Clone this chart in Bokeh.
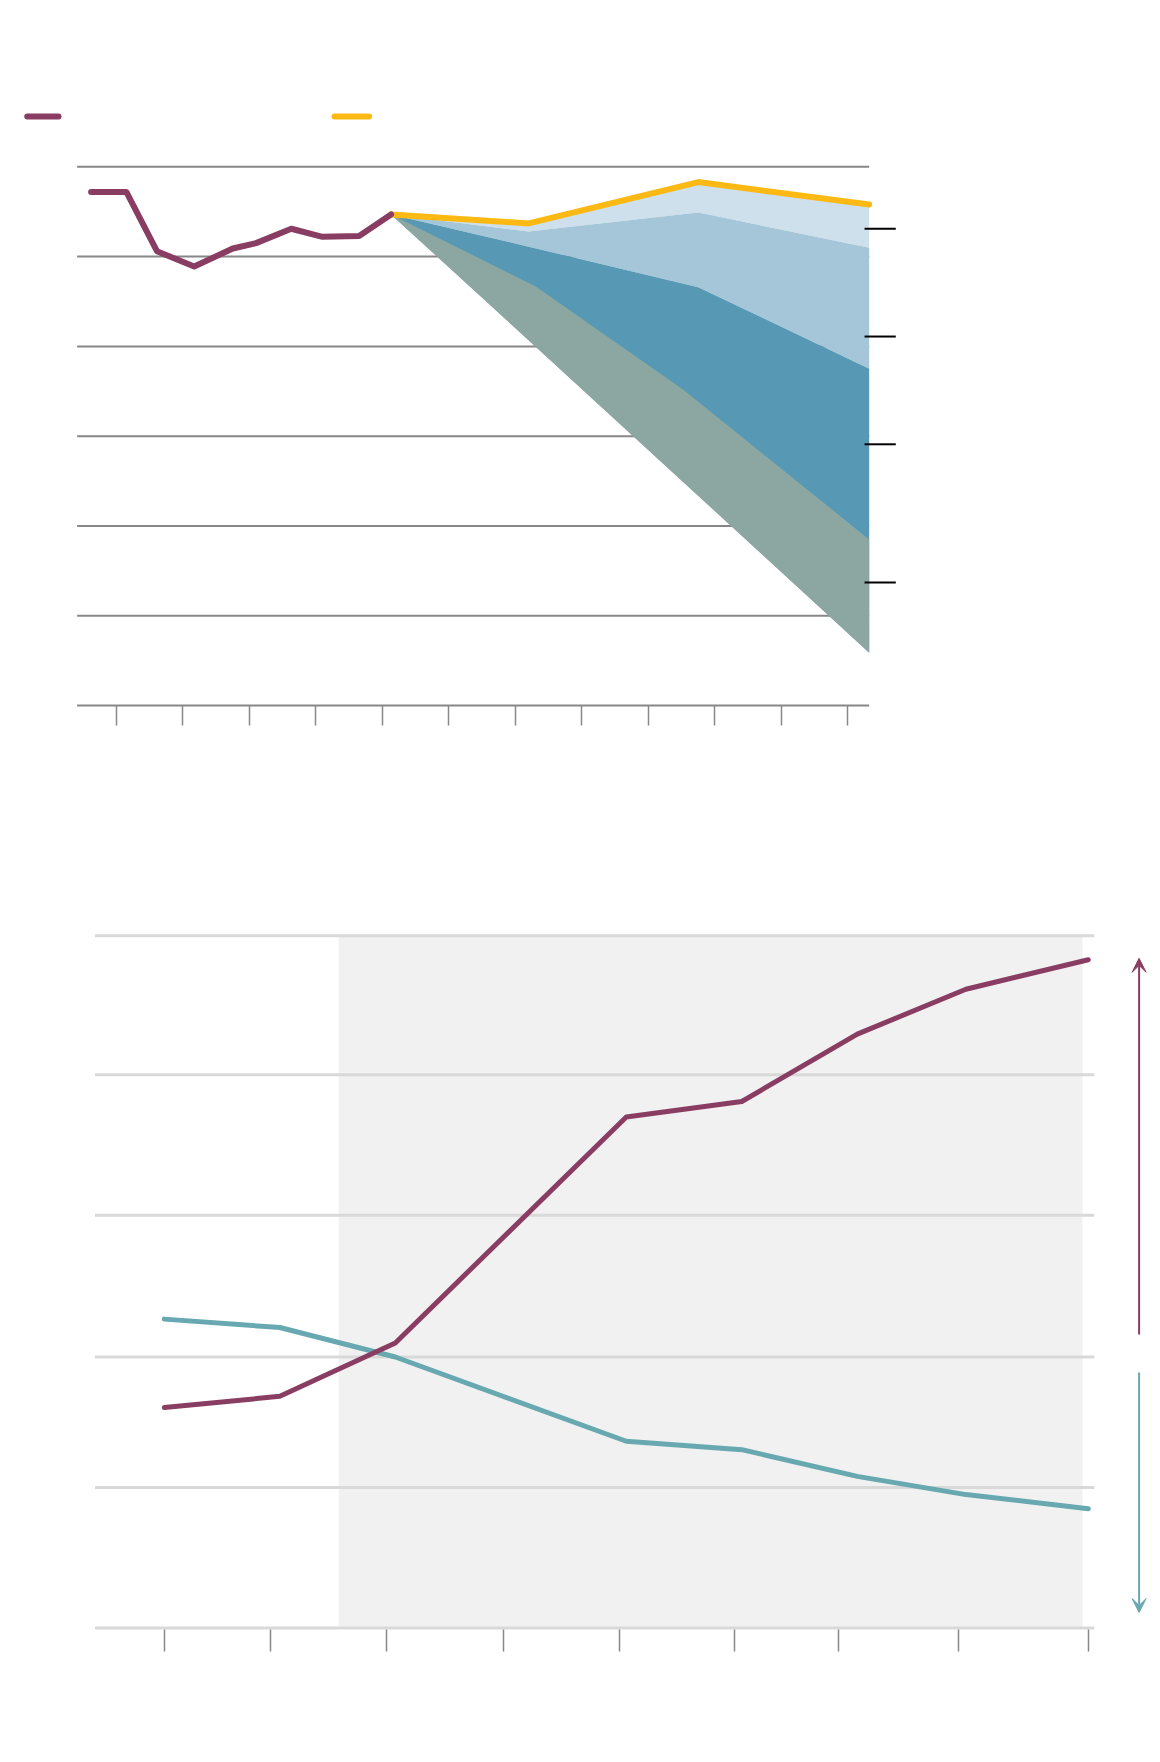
from bokeh.plotting import figure
from bokeh.layouts import column
from bokeh.models import Range1d, FixedTicker, CustomJSTickFormatter, Arrow, VeeHead
from bokeh.embed import file_html
from bokeh.resources import INLINE

# ---------------- data: top chart ----------------
hist_years = [1956.2, 1961.5, 1966.1, 1971.7, 1977.5, 1981.0, 1986.3, 1991.0, 1996.5, 2001.3]
hist_vals = [57.2, 57.2, 50.6, 48.9, 50.9, 51.5, 53.1, 52.2, 52.3, 54.7]
proj_years = [2001.3, 2022, 2047.5, 2073.2]
proj_line = [54.7, 53.7, 58.3, 55.8]
band1_bottom = [54.7, 52.8, 54.9, 51.0]
band2_bottom = [54.7, 51.1, 46.6, 37.5]
band3_low = [54.7, 40.7, 23.4, 5.9]
gray_years = [2001.3, 2023, 2045.2, 2073.2]
gray_top = [54.7, 46.7, 35.2, 18.5]
gray_bottom = [54.7, 40.0, 24.9, 5.9]
top_grid_vals = [0, 10, 20, 30, 40, 50, 60]
top_ticks = [1960, 1970, 1980, 1990, 2000, 2010, 2020, 2030, 2040, 2050, 2060, 2070]
marker_levels = [53.1, 41.1, 29.1, 13.7]
marker_span = [2072.5, 2077.2]
top_grid_span = [1954.1, 2073.2]
legend_hist = [1946.6, 1951.3]
legend_proj = [1992.8, 1998.0]
legend_level = 65.6

# ---------------- data: bottom chart ----------------
years_b = [2010, 2015, 2020, 2030, 2035, 2040, 2044.7, 2050]
series_up = [1.57, 1.65, 2.03, 3.64, 3.75, 4.23, 4.55, 4.76]
series_down = [2.20, 2.14, 1.93, 1.33, 1.27, 1.08, 0.95, 0.85]
bottom_grid_vals = [0, 1.0, 1.93, 2.94, 3.94, 4.93]
bottom_ticks = [2010, 2014.6, 2019.6, 2024.7, 2029.7, 2034.7, 2039.2, 2044.4, 2050]
shade_span = [2017.55, 2049.75]
bottom_grid_span = [2007.0, 2050.26]
arrow_x = 2052.2
arrow_up = [2.09, 4.77]
arrow_down = [1.82, 0.11]

MAROON = "#8a3d62"
YELLOW = "#fdb913"
TEAL = "#68a8b1"
empty = CustomJSTickFormatter(code="return ''")

# ================= top figure =================
p1 = figure(width=1151, height=759, output_backend="svg", toolbar_location=None,
            x_range=Range1d(1944.23, 2115.35), y_range=Range1d(-0.21, 71.95),
            y_axis_location=None, min_border_left=11, min_border_right=2,
            min_border_top=59, min_border_bottom=52)
p1.outline_line_color = None
p1.xgrid.visible = False
p1.ygrid.visible = False

n = len(top_grid_vals)
p1.segment(x0=[top_grid_span[0]] * n, y0=top_grid_vals, x1=[top_grid_span[1]] * n,
           y1=top_grid_vals, line_color="#878787", line_width=2)

p1.varea(x=proj_years, y1=band1_bottom, y2=proj_line, fill_color="#cde0eb")
p1.varea(x=proj_years, y1=band2_bottom, y2=band1_bottom, fill_color="#a4c6d8")
p1.varea(x=proj_years, y1=band3_low, y2=band2_bottom, fill_color="#5799b5")
p1.varea(x=gray_years, y1=gray_bottom, y2=gray_top, fill_color="#8ca7a1")

k = len(marker_levels)
p1.segment(x0=[marker_span[0]] * k, y0=marker_levels, x1=[marker_span[1]] * k,
           y1=marker_levels, line_color="black", line_width=2)

p1.line(proj_years, proj_line, line_color=YELLOW, line_width=6,
        line_cap="round", line_join="round")
p1.line(hist_years, hist_vals, line_color=MAROON, line_width=6,
        line_cap="round", line_join="round")

p1.line(legend_hist, [legend_level] * 2, line_color=MAROON, line_width=6, line_cap="round")
p1.line(legend_proj, [legend_level] * 2, line_color=YELLOW, line_width=6, line_cap="round")

xa = p1.xaxis[0]
xa.ticker = FixedTicker(ticks=top_ticks)
xa.formatter = empty
xa.axis_line_color = None
xa.major_tick_line_color = "#888888"
xa.major_tick_line_width = 1.5
xa.major_tick_in = 2
xa.major_tick_out = 18
xa.minor_tick_line_color = None

# ================= bottom figure =================
p2 = figure(width=1151, height=931, output_backend="svg", toolbar_location=None,
            x_range=Range1d(2003.385, 2052.65), y_range=Range1d(-0.018, 5.189),
            y_axis_location=None, min_border_left=11, min_border_right=2,
            min_border_top=140, min_border_bottom=60)
p2.outline_line_color = None
p2.xgrid.visible = False
p2.ygrid.visible = False

p2.quad(left=[shade_span[0]], right=[shade_span[1]], bottom=[bottom_grid_vals[0]],
        top=[bottom_grid_vals[-1]], fill_color="#f1f1f1", line_color=None)

m = len(bottom_grid_vals)
p2.segment(x0=[bottom_grid_span[0]] * m, y0=bottom_grid_vals, x1=[bottom_grid_span[1]] * m,
           y1=bottom_grid_vals, line_color="#d9d9d9", line_width=3)

p2.line(years_b, series_down, line_color=TEAL, line_width=5,
        line_cap="round", line_join="round")
p2.line(years_b, series_up, line_color=MAROON, line_width=5,
        line_cap="round", line_join="round")

p2.add_layout(Arrow(x_start=arrow_x, y_start=arrow_up[0], x_end=arrow_x, y_end=arrow_up[1],
                    line_color=MAROON, line_width=2,
                    end=VeeHead(size=14, fill_color=MAROON, line_color=MAROON, line_width=1)))
p2.add_layout(Arrow(x_start=arrow_x, y_start=arrow_down[0], x_end=arrow_x, y_end=arrow_down[1],
                    line_color=TEAL, line_width=2,
                    end=VeeHead(size=14, fill_color=TEAL, line_color=TEAL, line_width=1)))

xb = p2.xaxis[0]
xb.ticker = FixedTicker(ticks=bottom_ticks)
xb.formatter = empty
xb.axis_line_color = None
xb.major_tick_line_color = "#888888"
xb.major_tick_line_width = 1.5
xb.major_tick_in = 1
xb.major_tick_out = 21
xb.minor_tick_line_color = None

layout = column(p1, p2)
open("out.html", "w").write(file_html(layout, INLINE))
